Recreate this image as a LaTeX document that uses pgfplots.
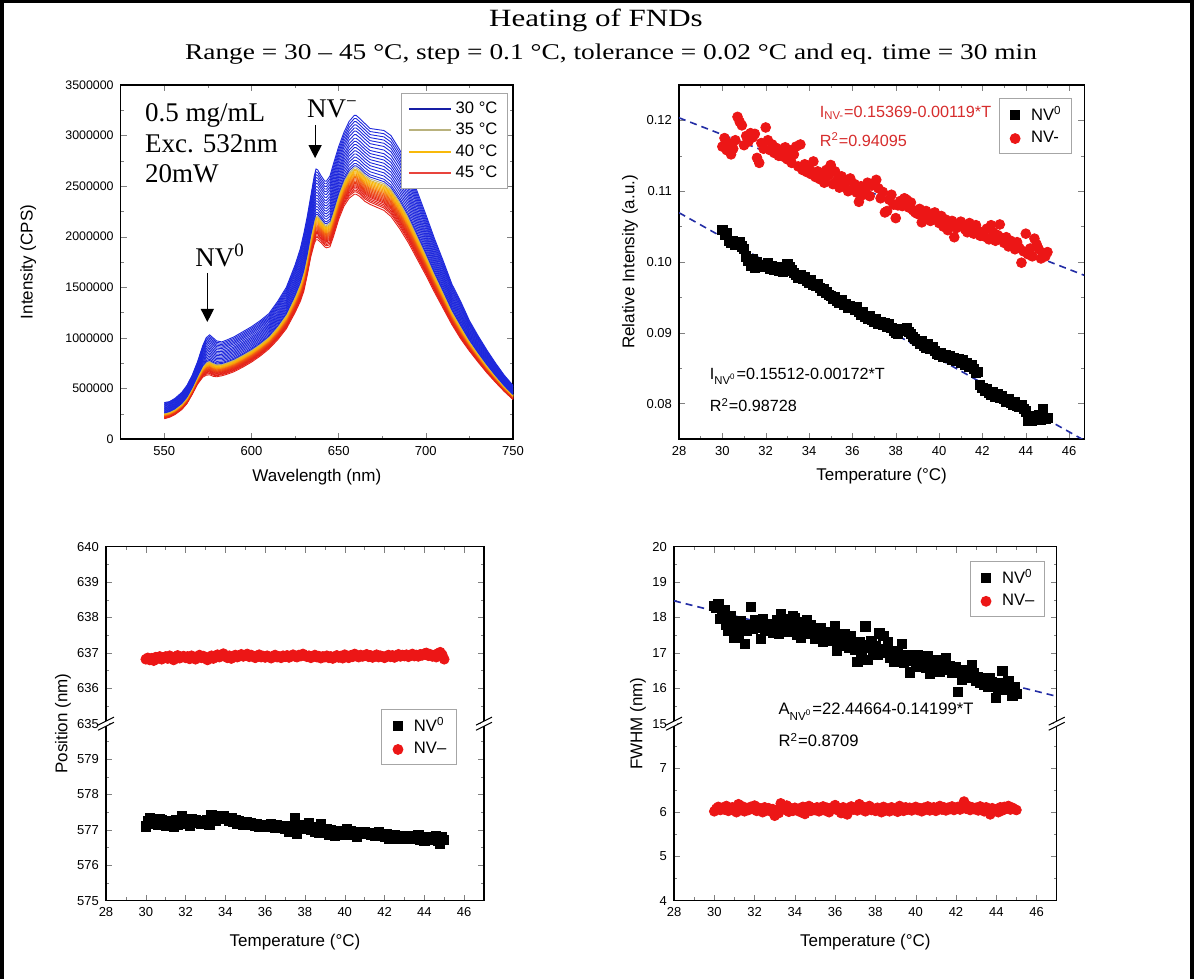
\documentclass[border=0pt]{standalone}
\usepackage{pgfplots}
\pgfplotsset{compat=1.18}
\usepackage{pgfplotstable}
\usepackage{graphicx}
\usepackage{fontspec}
\setmainfont{Liberation Sans}
\newfontfamily\timesf{Liberation Serif}
\usetikzlibrary{arrows.meta}

\definecolor{cblue}{RGB}{30,40,220}
\definecolor{ckhaki}{RGB}{185,178,125}
\definecolor{cyel}{RGB}{248,185,10}
\definecolor{corange}{RGB}{245,105,15}
\definecolor{cred}{RGB}{228,35,25}
\definecolor{mred}{RGB}{236,22,22}
\definecolor{fitblue}{RGB}{35,45,165}
\definecolor{tred}{RGB}{215,45,45}

\pgfplotstableread{
wl C H
550 360000 200000
553 370000 215000
556 400000 240000
560 460000 290000
563 530000 350000
566 630000 440000
569 760000 540000
572 920000 610000
574 1000000 630000
576 1030000 635000
578 1000000 620000
580 970000 615000
583 960000 625000
586 980000 640000
590 1010000 665000
595 1060000 710000
600 1110000 760000
605 1170000 820000
610 1240000 890000
615 1360000 980000
620 1500000 1090000
625 1720000 1250000
628 1880000 1360000
630 2030000 1460000
632 2200000 1620000
634 2400000 1800000
636 2600000 1930000
637 2670000 1970000
638 2660000 1970000
640 2600000 1940000
642 2550000 1900000
643 2550000 1890000
645 2600000 1900000
647 2720000 2000000
650 2890000 2170000
653 3030000 2300000
656 3140000 2380000
659 3200000 2420000
660 3200000 2420000
662 3170000 2400000
665 3120000 2350000
668 3070000 2320000
672 3060000 2290000
676 3050000 2260000
680 3000000 2200000
685 2860000 2080000
690 2680000 1940000
695 2450000 1780000
700 2220000 1620000
705 1980000 1450000
710 1760000 1290000
715 1530000 1130000
720 1360000 990000
725 1170000 870000
730 1020000 760000
735 880000 655000
740 750000 560000
745 630000 470000
750 530000 390000
}\spec

\pgfplotstableread{
T I0 Im
30.0 0.1045 0.1163
30.1 0.1038 0.1175
30.2 0.1041 0.1158
30.3 0.1030 0.1168
30.4 0.1027 0.1152
30.5 0.1029 0.1160
30.6 0.1024 0.1172
30.7 0.1026 0.1205
30.8 0.1028 0.1198
30.9 0.1022 0.1193
31.0 0.1018 0.1165
31.1 0.1008 0.1178
31.2 0.1002 0.1170
31.3 0.0994 0.1182
31.4 0.1004 0.1176
31.5 0.0992 0.1181
31.6 0.1000 0.1147
31.7 0.0995 0.1140
31.8 0.0993 0.1168
31.9 0.0996 0.1160
32.0 0.0994 0.1190
32.1 0.0998 0.1172
32.2 0.0991 0.1158
32.3 0.0995 0.1166
32.4 0.0989 0.1154
32.5 0.0993 0.1161
32.6 0.0987 0.1150
32.7 0.0990 0.1157
32.8 0.0986 0.1149
32.9 0.0989 0.1162
33.0 0.0997 0.1145
33.1 0.0993 0.1158
33.2 0.0988 0.1140
33.3 0.0985 0.1152
33.4 0.0982 0.1163
33.5 0.0978 0.1135
33.6 0.0981 0.1166
33.7 0.0976 0.1130
33.8 0.0979 0.1138
33.9 0.0974 0.1127
34.0 0.0971 0.1132
34.1 0.0975 0.1124
34.2 0.0968 0.1142
34.3 0.0966 0.1120
34.4 0.0969 0.1128
34.5 0.0963 0.1117
34.6 0.0960 0.1125
34.7 0.0962 0.1112
34.8 0.0957 0.1130
34.9 0.0954 0.1122
35.0 0.0952 0.1137
35.1 0.0948 0.1110
35.2 0.0951 0.1128
35.3 0.0945 0.1116
35.4 0.0942 0.1105
35.5 0.0946 0.1121
35.6 0.0939 0.1108
35.7 0.0941 0.1114
35.8 0.0936 0.1100
35.9 0.0938 0.1118
36.0 0.0935 0.1103
36.1 0.0932 0.1110
36.2 0.0936 0.1098
36.3 0.0929 0.1085
36.4 0.0926 0.1107
36.5 0.0930 0.1095
36.6 0.0922 0.1101
36.7 0.0920 0.1112
36.8 0.0924 0.1093
36.9 0.0918 0.1108
37.0 0.0916 0.1110
37.1 0.0919 0.1116
37.2 0.0913 0.1104
37.3 0.0915 0.1090
37.4 0.0911 0.1099
37.5 0.0914 0.1070
37.6 0.0909 0.1072
37.7 0.0912 0.1088
37.8 0.0907 0.1095
37.9 0.0903 0.1081
38.0 0.0900 0.1062
38.1 0.0898 0.1080
38.2 0.0903 0.1086
38.3 0.0906 0.1079
38.4 0.0904 0.1090
38.5 0.0907 0.1088
38.6 0.0901 0.1077
38.7 0.0898 0.1084
38.8 0.0894 0.1073
38.9 0.0891 0.1070
39.0 0.0889 0.1068
39.1 0.0885 0.1075
39.2 0.0888 0.1056
39.3 0.0882 0.1065
39.4 0.0879 0.1072
39.5 0.0884 0.1061
39.6 0.0877 0.1058
39.7 0.0880 0.1066
39.8 0.0874 0.1070
39.9 0.0871 0.1060
40.0 0.0869 0.1055
40.1 0.0872 0.1065
40.2 0.0866 0.1050
40.3 0.0868 0.1060
40.4 0.0864 0.1045
40.5 0.0867 0.1052
40.6 0.0862 0.1058
40.7 0.0865 0.1035
40.8 0.0860 0.1048
40.9 0.0863 0.1053
41.0 0.0858 0.1057
41.1 0.0861 0.1050
41.2 0.0855 0.1046
41.3 0.0857 0.1042
41.4 0.0852 0.1055
41.5 0.0854 0.1048
41.6 0.0849 0.1040
41.7 0.0844 0.1052
41.8 0.0845 0.1044
41.9 0.0826 0.1037
42.0 0.0822 0.1041
42.1 0.0818 0.1036
42.2 0.0820 0.1047
42.3 0.0815 0.1032
42.4 0.0812 0.1052
42.5 0.0816 0.1042
42.6 0.0810 0.1030
42.7 0.0813 0.1038
42.8 0.0808 0.1053
42.9 0.0811 0.1034
43.0 0.0807 0.1027
43.1 0.0803 0.1035
43.2 0.0806 0.1022
43.3 0.0801 0.1030
43.4 0.0799 0.1025
43.5 0.0802 0.1018
43.6 0.0797 0.1028
43.7 0.0795 0.1020
43.8 0.0798 0.0999
43.9 0.0792 0.1015
44.0 0.0789 0.1040
44.1 0.0776 0.1011
44.2 0.0780 0.1019
44.3 0.0775 0.1008
44.4 0.0783 0.1033
44.5 0.0779 0.1025
44.6 0.0784 0.1018
44.7 0.0777 0.1005
44.8 0.0793 0.1012
44.9 0.0778 0.1008
45.0 0.0780 0.1014
}\rel

\pgfplotstableread{
T P0 Pm
30.0 577.10 636.82
30.1 577.25 636.86
30.2 577.35 636.80
30.3 577.18 636.85
30.4 577.30 636.78
30.5 577.22 636.88
30.6 577.15 636.84
30.7 577.32 636.90
30.8 577.28 636.82
30.9 577.20 636.87
31.0 577.12 636.90
31.1 577.25 636.84
31.2 577.18 636.92
31.3 577.22 636.86
31.4 577.10 636.80
31.5 577.28 636.89
31.6 577.15 636.93
31.7 577.20 636.85
31.8 577.40 636.88
31.9 577.22 636.91
32.0 577.25 636.86
32.1 577.18 636.90
32.2 577.12 636.83
32.3 577.30 636.92
32.4 577.22 636.87
32.5 577.28 636.82
32.6 577.20 636.89
32.7 577.26 636.94
32.8 577.18 636.86
32.9 577.24 636.91
33.0 577.20 636.85
33.1 577.28 636.80
33.2 577.15 636.88
33.3 577.42 636.92
33.4 577.30 636.84
33.5 577.25 636.90
33.6 577.35 636.95
33.7 577.40 636.88
33.8 577.32 636.93
33.9 577.38 636.98
34.0 577.35 636.90
34.1 577.30 636.86
34.2 577.26 636.92
34.3 577.33 636.84
34.4 577.22 636.89
34.5 577.28 636.94
34.6 577.18 636.88
34.7 577.25 636.91
34.8 577.20 636.96
34.9 577.15 636.90
35.0 577.18 636.93
35.1 577.22 636.97
35.2 577.14 636.89
35.3 577.20 636.94
35.4 577.16 636.90
35.5 577.12 636.86
35.6 577.18 636.92
35.7 577.10 636.95
35.8 577.15 636.88
35.9 577.13 636.91
36.0 577.08 636.87
36.1 577.15 636.92
36.2 577.12 636.89
36.3 577.18 636.85
36.4 577.10 636.91
36.5 577.05 636.94
36.6 577.14 636.88
36.7 577.11 636.90
36.8 577.06 636.86
36.9 577.12 636.92
37.0 577.02 636.89
37.1 577.10 636.93
37.2 576.95 636.87
37.3 577.05 636.91
37.4 577.08 636.95
37.5 577.35 636.90
37.6 576.88 636.88
37.7 577.10 636.94
37.8 577.02 636.91
37.9 577.15 636.97
38.0 577.12 636.93
38.1 577.05 636.89
38.2 577.20 636.92
38.3 577.00 636.86
38.4 577.08 636.90
38.5 576.95 636.94
38.6 577.05 636.88
38.7 576.92 636.91
38.8 577.18 636.85
38.9 577.00 636.90
39.0 576.95 636.88
39.1 577.02 636.92
39.2 576.85 636.86
39.3 577.00 636.90
39.4 576.90 636.84
39.5 576.82 636.89
39.6 576.98 636.93
39.7 576.88 636.87
39.8 576.92 636.91
39.9 576.85 636.85
40.0 576.95 636.95
40.1 577.02 636.90
40.2 576.90 636.86
40.3 576.98 636.93
40.4 576.85 636.89
40.5 576.92 636.97
40.6 576.80 636.91
40.7 576.95 636.88
40.8 576.88 636.94
40.9 576.92 636.90
41.0 576.95 636.92
41.1 576.88 636.96
41.2 576.92 636.89
41.3 576.85 636.93
41.4 576.90 636.87
41.5 576.82 636.91
41.6 576.88 636.95
41.7 576.93 636.88
41.8 576.84 636.92
41.9 576.86 636.90
42.0 576.80 636.86
42.1 576.88 636.91
42.2 576.76 636.94
42.3 576.84 636.89
42.4 576.78 636.93
42.5 576.85 636.87
42.6 576.80 636.92
42.7 576.76 636.96
42.8 576.82 636.90
42.9 576.78 636.94
43.0 576.80 636.91
43.1 576.76 636.95
43.2 576.84 636.89
43.3 576.78 636.93
43.4 576.74 636.97
43.5 576.80 636.91
43.6 576.77 636.94
43.7 576.85 636.90
43.8 576.73 636.96
43.9 576.79 636.93
44.0 576.70 636.98
44.1 576.78 637.00
44.2 576.74 636.92
44.3 576.80 636.96
44.4 576.72 636.90
44.5 576.76 636.94
44.6 576.82 636.88
44.7 576.68 636.99
44.8 576.62 637.02
44.9 576.80 636.95
45.0 576.72 636.82
}\pos

\pgfplotstableread{
T F0 Fm
30.0 18.32 6.02
30.1 18.28 6.08
30.2 18.38 6.12
30.3 17.95 6.05
30.4 18.10 6.10
30.5 18.22 6.06
30.6 17.80 6.14
30.7 17.62 6.03
30.8 18.05 6.09
30.9 17.75 6.11
31.0 17.42 6.04
31.1 17.70 6.00
31.2 17.55 6.18
31.3 17.90 6.07
31.4 17.65 6.13
31.5 17.25 6.02
31.6 17.62 6.09
31.7 17.80 6.05
31.8 18.30 6.12
31.9 17.68 6.08
32.0 17.92 6.15
32.1 17.70 6.03
32.2 17.85 6.10
32.3 17.40 6.06
32.4 17.95 6.00
32.5 17.62 6.11
32.6 17.78 6.04
32.7 17.68 6.09
32.8 17.82 6.02
32.9 17.58 6.07
33.0 17.65 5.92
33.1 17.92 6.05
33.2 17.55 5.98
33.3 18.10 6.20
33.4 17.80 6.12
33.5 17.72 6.06
33.6 17.95 6.15
33.7 17.60 6.01
33.8 17.85 6.09
33.9 18.05 6.03
34.0 17.98 6.10
34.1 17.50 6.04
34.2 17.75 6.08
34.3 17.42 6.00
34.4 17.88 6.12
34.5 17.65 5.96
34.6 17.92 6.06
34.7 17.55 6.14
34.8 17.80 6.03
34.9 17.60 6.09
35.0 17.40 6.05
35.1 17.62 6.11
35.2 17.50 6.02
35.3 17.70 6.08
35.4 17.30 6.13
35.5 17.55 6.04
35.6 17.42 6.10
35.7 17.60 6.00
35.8 17.35 6.07
35.9 17.48 6.12
36.0 17.75 6.16
36.1 17.05 6.05
36.2 17.20 6.09
36.3 17.45 5.98
36.4 17.30 6.11
36.5 17.52 6.03
36.6 17.38 5.95
36.7 17.15 6.08
36.8 17.48 6.13
36.9 17.25 6.06
37.0 17.10 6.10
37.1 16.75 6.04
37.2 17.30 6.18
37.3 17.00 6.07
37.4 17.22 6.12
37.5 17.75 6.02
37.6 16.80 6.09
37.7 17.15 6.14
37.8 17.35 6.05
37.9 17.05 6.08
38.0 17.20 6.03
38.1 16.95 6.10
38.2 17.55 6.06
38.3 17.10 6.00
38.4 17.48 6.12
38.5 17.00 6.04
38.6 17.30 6.08
38.7 16.85 6.02
38.8 17.05 6.11
38.9 16.75 6.05
39.0 16.80 6.07
39.1 17.02 6.01
39.2 16.90 6.14
39.3 17.25 6.09
39.4 16.72 6.03
39.5 16.88 6.11
39.6 16.95 6.06
39.7 16.45 6.10
39.8 16.78 6.04
39.9 16.92 6.08
40.0 16.70 6.12
40.1 16.95 6.05
40.2 16.62 6.09
40.3 16.85 6.02
40.4 16.75 6.10
40.5 16.58 6.06
40.6 16.90 6.13
40.7 16.42 6.04
40.8 16.68 6.08
40.9 16.80 6.11
41.0 16.55 6.03
41.1 16.72 6.09
41.2 16.48 6.14
41.3 16.65 6.06
41.4 16.80 6.11
41.5 16.85 6.04
41.6 16.52 6.10
41.7 16.62 6.07
41.8 16.45 6.13
41.9 16.58 6.05
42.0 16.60 6.09
42.1 15.90 6.12
42.2 16.45 6.06
42.3 16.25 6.10
42.4 16.52 6.24
42.5 16.38 6.08
42.6 16.48 6.14
42.7 16.30 6.05
42.8 16.65 6.11
42.9 16.42 6.07
43.0 16.20 6.10
43.1 16.32 6.04
43.2 16.15 6.13
43.3 16.28 6.07
43.4 16.10 6.02
43.5 16.25 6.11
43.6 16.05 6.05
43.7 16.30 5.95
43.8 16.18 6.09
43.9 16.12 6.03
44.0 15.72 6.06
44.1 16.02 6.00
44.2 16.15 6.11
44.3 16.50 6.04
44.4 15.95 6.12
44.5 16.10 6.08
44.6 16.22 6.14
44.7 15.98 6.06
44.8 15.78 6.10
44.9 16.05 6.07
45.0 15.85 6.05
}\fw

\pgfplotsset{
  panel/.style={scale only axis, height=177pt, anchor=south west,
    tick align=inside, major tick length=3pt, minor tick length=1.6pt,
    axis line style={line width=0.6pt},
    tick label style={font=\fontsize{6.5}{7.5}\selectfont},
    label style={font=\fontsize{8.5}{10}\selectfont},
    legend style={font=\fontsize{8.3}{10}\selectfont, draw=gray!70, line width=0.5pt},
    legend cell align=left,
    /pgf/number format/assume math mode=true},
  mklegend/.style={legend image code/.code={\path[draw=none,fill=none] (0pt,-2pt) rectangle (11pt,2pt); \draw[##1] plot coordinates {(5pt,0pt)};}},
  sq/.style={only marks, mark=square*, mark size=2.3pt, black},
  ci/.style={only marks, mark=*, mark size=2.45pt, mred, mark options={draw=mred, fill=mred}},
}

\begin{document}
\begin{tikzpicture}
\useasboundingbox (0,0) rectangle (597pt,489.5pt);
\fill[black] (0,0) rectangle (597pt,489.5pt);
\fill[white] (2pt,0) rectangle (595pt,488pt);

\node[font=\timesf\fontsize{15.5}{17}\selectfont, anchor=base] at (298pt,476pt) {\scalebox{1}[0.8]{Heating of FNDs}};
\node[font=\timesf\fontsize{13.7}{16}\selectfont, anchor=base] at (305.5pt,459.5pt) {\scalebox{1}[0.82]{Range = 30 – 45 °C, step = 0.1 °C, tolerance = 0.02 °C and eq. time = 30 min}};

% ---------- top left: spectra ----------
\begin{axis}[panel, at={(60.35pt,270pt)}, width=196.15pt,
  xmin=525, xmax=750, ymin=0, ymax=3500000,
  xtick={550,600,650,700,750}, minor x tick num=1,
  ytick={0,500000,1000000,1500000,2000000,2500000,3000000,3500000}, minor y tick num=1,
  scaled y ticks=false,
  yticklabel style={/pgf/number format/fixed, /pgf/number format/precision=0, /pgf/number format/1000 sep={}, font=\fontsize{6.2}{7}\selectfont},
  xlabel={Wavelength (nm)}, ylabel={Intensity (CPS)},
  xlabel style={at={(axis description cs:0.5,-0.107)}, anchor=center},
  ylabel style={at={(axis description cs:-0.236,0.5)}, anchor=center},
  legend style={at={(rel axis cs:0.987,0.977)}, anchor=north east, row sep=-0.6pt},
  legend image code/.code={\draw[#1] (0pt,0pt) -- (21pt,0pt);},
  clip=false]
\addlegendimage{draw=cblue!75!black, line width=0.9pt}\addlegendentry{30 °C}
\addlegendimage{draw=ckhaki, line width=0.9pt}\addlegendentry{35 °C}
\addlegendimage{draw=cyel, line width=0.9pt}\addlegendentry{40 °C}
\addlegendimage{draw=cred!85!white, line width=0.9pt}\addlegendentry{45 °C}
\foreach \ww/\cc in {1.0/cred, 0.97/cred, 0.95/cred, 0.93/cred, 0.91/cred,
  0.895/corange!10!cred, 0.88/corange!20!cred, 0.865/corange!30!cred, 0.85/corange!40!cred,
  0.835/corange!55!cred, 0.82/corange!70!cred, 0.805/corange!85!cred, 0.79/corange,
  0.775/cyel!40!corange, 0.76/cyel!55!corange, 0.745/cyel!70!corange, 0.73/cyel!85!corange,
  0.715/cyel, 0.70/cyel, 0.685/cyel!60!ckhaki, 0.665/ckhaki,
  0.64/cblue, 0.61/cblue, 0.57/cblue, 0.53/cblue, 0.49/cblue, 0.45/cblue, 0.41/cblue,
  0.37/cblue, 0.33/cblue, 0.29/cblue, 0.245/cblue, 0.20/cblue, 0.16/cblue, 0.12/cblue,
  0.08/cblue, 0.04/cblue, 0.0/cblue}{
  \edef\temp{\noexpand\addplot[draw=\cc, line width=0.45pt, forget plot] table[x=wl, y expr={\noexpand\thisrow{C}+\ww*(\noexpand\thisrow{H}-\noexpand\thisrow{C})}] {\noexpand\spec};}
  \temp
}
\node[font=\timesf\fontsize{13.5}{15}\selectfont, anchor=base west] at (axis cs:534.9,3140000) {0.5 mg/mL};
\node[font=\timesf\fontsize{13.5}{15}\selectfont, anchor=base west] at (axis cs:534.9,2834000) {Exc. 532nm};
\node[font=\timesf\fontsize{13.5}{15}\selectfont, anchor=base west] at (axis cs:534.9,2532000) {20mW};
\node[font=\timesf\fontsize{13.5}{15}\selectfont, anchor=base west] at (axis cs:627.9,3175000) {NV\textsuperscript{−}};
\node[font=\timesf\fontsize{13.5}{15}\selectfont, anchor=base west] at (axis cs:563.8,1704000) {NV\textsuperscript{0}};
\draw[line width=0.6pt, -{Triangle[width=6.5pt,length=6.5pt]}] (axis cs:636.5,3106000) -- (axis cs:636.5,2777000);
\draw[line width=0.6pt, -{Triangle[width=6.5pt,length=6.5pt]}] (axis cs:574.7,1642000) -- (axis cs:574.7,1157000);
\end{axis}

% ---------- top right: relative intensity ----------
\begin{axis}[panel, mklegend, at={(339.5pt,270pt)}, width=202.65pt,
  xmin=28, xmax=46.7, ymin=0.075, ymax=0.125,
  xtick={28,30,...,46}, minor x tick num=1,
  ytick={0.08,0.09,0.10,0.11,0.12}, minor y tick num=1,
  yticklabel style={/pgf/number format/fixed, /pgf/number format/fixed zerofill, /pgf/number format/precision=2},
  xlabel={Temperature (°C)}, ylabel={Relative Intensity (a.u.)},
  xlabel style={at={(axis description cs:0.5,-0.106)}, anchor=center},
  ylabel style={at={(axis description cs:-0.121,0.5)}, anchor=center},
  legend style={at={(rel axis cs:0.97,0.963)}, anchor=north east}]
\addplot[sq] table[x=T, y=I0] {\rel};
\addlegendentry{NV\textsuperscript{0}}
\addplot[ci] table[x=T, y=Im] {\rel};
\addlegendentry{NV-}
\addplot[fitblue, dashed, line width=0.8pt, dash pattern=on 3.5pt off 2.5pt, forget plot] table[row sep=\\] {T y\\ 28 0.12037\\ 46.7 0.09812\\};
\addplot[fitblue, dashed, line width=0.8pt, dash pattern=on 3.5pt off 2.5pt, forget plot] table[row sep=\\] {T y\\ 28 0.10696\\ 46.7 0.07480\\};
\node[anchor=west, text=tred, font=\fontsize{8.1}{10}\selectfont] at (rel axis cs:0.33,0.921) {I\textsubscript{NV-}=0.15369-0.00119*T};
\node[anchor=west, text=tred, font=\fontsize{8.1}{10}\selectfont] at (rel axis cs:0.33,0.845) {R\textsuperscript{2}=0.94095};
\node[anchor=west, font=\fontsize{8.1}{10}\selectfont] at (rel axis cs:0.059,0.176) {I\textsubscript{NV\textsuperscript{0}}=0.15512-0.00172*T};
\node[anchor=west, font=\fontsize{8.1}{10}\selectfont] at (rel axis cs:0.059,0.096) {R\textsuperscript{2}=0.98728};
\end{axis}

% ---------- bottom left: position (broken axis) ----------
\begin{axis}[panel, mklegend, at={(53pt,39.15pt)}, width=189pt,
  xmin=28, xmax=47, ymin=575, ymax=585,
  xtick={28,30,...,46}, minor x tick num=1,
  ytick={575,576,577,578,579,580,581,582,583,584,585},
  yticklabels={575,576,577,578,579,635,636,637,638,639,640},
  minor y tick num=1,
  xlabel={Temperature (°C)}, ylabel={Position (nm)},
  xlabel style={at={(axis description cs:0.5,-0.116)}, anchor=center},
  ylabel style={at={(axis description cs:-0.114,0.5)}, anchor=center},
  legend style={at={(rel axis cs:0.928,0.5415)}, anchor=north east},
  clip=false]
\addplot[sq] table[x=T, y=P0] {\pos};
\addlegendentry{NV\textsuperscript{0}}
\addplot[ci] table[x=T, y expr=\thisrow{Pm}-55] {\pos};
\addlegendentry{NV–}
\fill[white] ([xshift=-1.5pt,yshift=-1.3pt]rel axis cs:0,0.5) rectangle ([xshift=1.5pt,yshift=1.3pt]rel axis cs:0,0.5);
\fill[white] ([xshift=-1.5pt,yshift=-1.3pt]rel axis cs:1,0.5) rectangle ([xshift=1.5pt,yshift=1.3pt]rel axis cs:1,0.5);
\draw[line width=0.5pt] ([xshift=-4pt,yshift=-3.3pt]rel axis cs:0,0.5) -- ([xshift=4pt,yshift=0.7pt]rel axis cs:0,0.5);
\draw[line width=0.5pt] ([xshift=-4pt,yshift=-0.7pt]rel axis cs:0,0.5) -- ([xshift=4pt,yshift=3.3pt]rel axis cs:0,0.5);
\draw[line width=0.5pt] ([xshift=-4pt,yshift=-3.3pt]rel axis cs:1,0.5) -- ([xshift=4pt,yshift=0.7pt]rel axis cs:1,0.5);
\draw[line width=0.5pt] ([xshift=-4pt,yshift=-0.7pt]rel axis cs:1,0.5) -- ([xshift=4pt,yshift=3.3pt]rel axis cs:1,0.5);
\end{axis}

% ---------- bottom right: FWHM (broken axis) ----------
\begin{axis}[panel, mklegend, at={(337pt,39.15pt)}, width=191.35pt,
  xmin=28, xmax=47, ymin=0, ymax=10,
  xtick={28,30,...,46}, minor x tick num=1,
  ytick={0,1.25,2.5,3.75,5,6,7,8,9,10},
  yticklabels={4,5,6,7,15,16,17,18,19,20},
  minor ytick={0.625,1.875,3.125,4.375,5.5,6.5,7.5,8.5,9.5},
  xlabel={Temperature (°C)}, ylabel={FWHM (nm)},
  xlabel style={at={(axis description cs:0.5,-0.116)}, anchor=center},
  ylabel style={at={(axis description cs:-0.094,0.5)}, anchor=center},
  legend style={at={(rel axis cs:0.969,0.96)}, anchor=north east},
  clip=false]
\addplot[sq] table[x=T, y expr=\thisrow{F0}-10] {\fw};
\addlegendentry{NV\textsuperscript{0}}
\addplot[ci] table[x=T, y expr=(\thisrow{Fm}-4)*1.25] {\fw};
\addlegendentry{NV–}
\addplot[fitblue, dashed, line width=0.8pt, dash pattern=on 3.5pt off 2.5pt, forget plot] table[row sep=\\, y expr=\thisrow{A}-10] {T A\\ 28 18.471\\ 47 15.773\\};
\node[anchor=west, font=\fontsize{8.3}{10}\selectfont] at (rel axis cs:0.255,0.534) {A\textsubscript{NV\textsuperscript{0}}=22.44664-0.14199*T};
\node[anchor=west, font=\fontsize{8.3}{10}\selectfont] at (rel axis cs:0.255,0.454) {R\textsuperscript{2}=0.8709};
\fill[white] ([xshift=-1.5pt,yshift=-1.3pt]rel axis cs:0,0.5) rectangle ([xshift=1.5pt,yshift=1.3pt]rel axis cs:0,0.5);
\fill[white] ([xshift=-1.5pt,yshift=-1.3pt]rel axis cs:1,0.5) rectangle ([xshift=1.5pt,yshift=1.3pt]rel axis cs:1,0.5);
\draw[line width=0.5pt] ([xshift=-4pt,yshift=-3.3pt]rel axis cs:0,0.5) -- ([xshift=4pt,yshift=0.7pt]rel axis cs:0,0.5);
\draw[line width=0.5pt] ([xshift=-4pt,yshift=-0.7pt]rel axis cs:0,0.5) -- ([xshift=4pt,yshift=3.3pt]rel axis cs:0,0.5);
\draw[line width=0.5pt] ([xshift=-4pt,yshift=-3.3pt]rel axis cs:1,0.5) -- ([xshift=4pt,yshift=0.7pt]rel axis cs:1,0.5);
\draw[line width=0.5pt] ([xshift=-4pt,yshift=-0.7pt]rel axis cs:1,0.5) -- ([xshift=4pt,yshift=3.3pt]rel axis cs:1,0.5);
\end{axis}
\end{tikzpicture}
\end{document}
